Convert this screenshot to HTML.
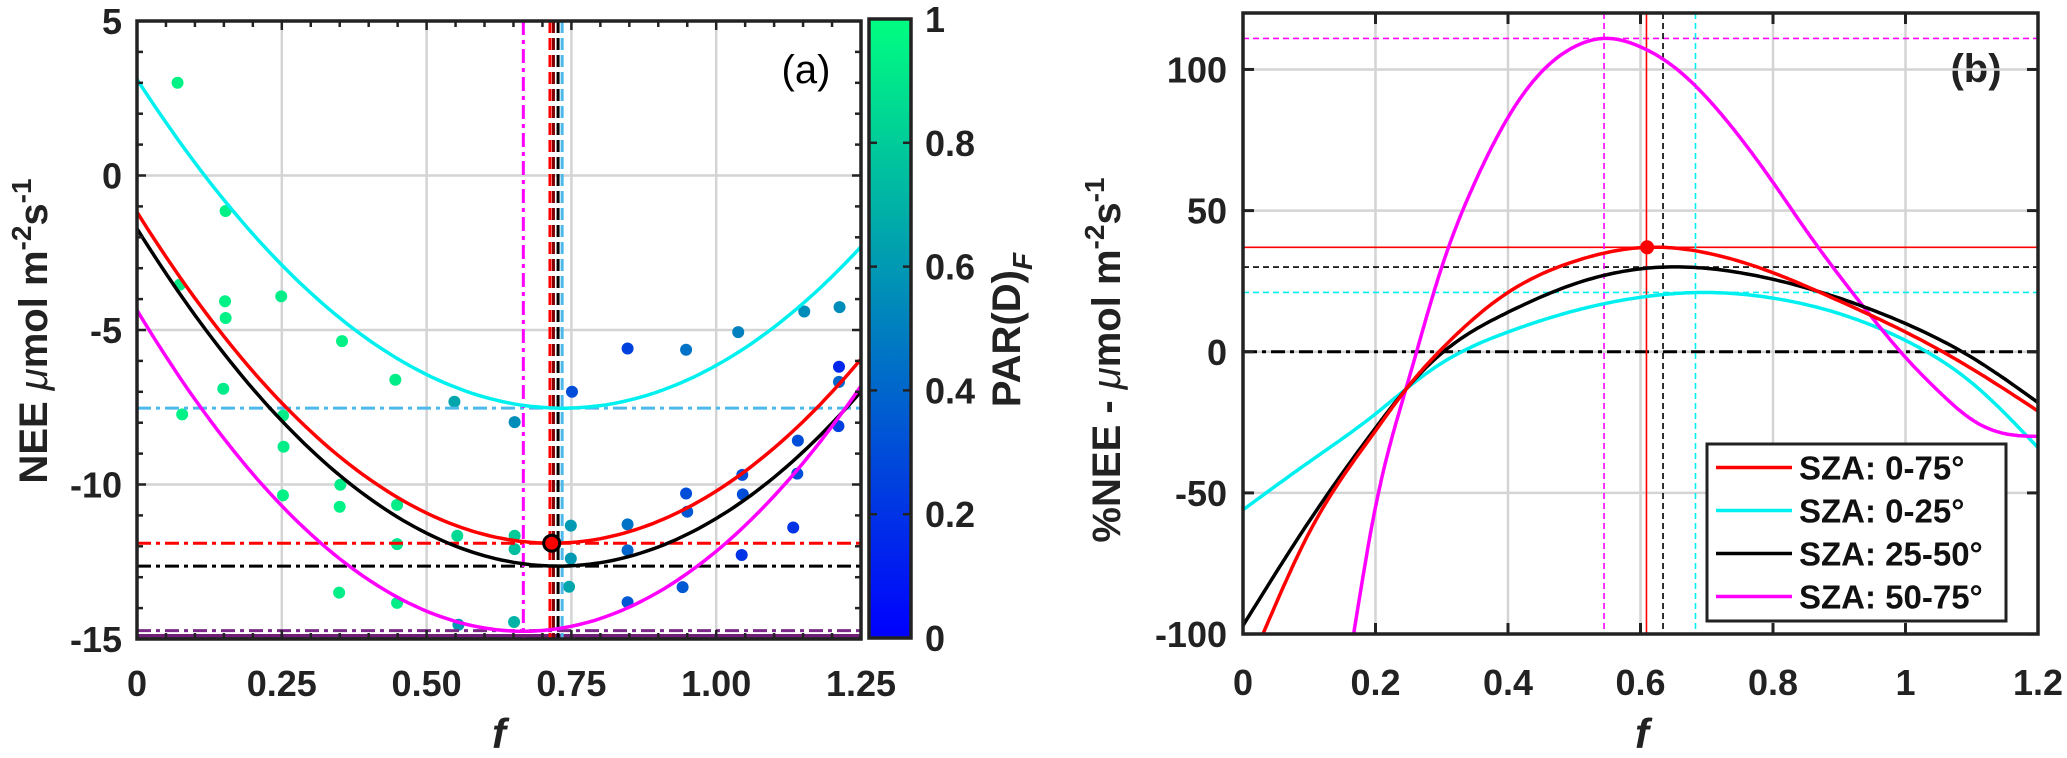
<!DOCTYPE html>
<html>
<head>
<meta charset="utf-8">
<style>
html,body{margin:0;padding:0;background:#fff;}
svg{display:block;font-family:"Liberation Sans",Arial,sans-serif;}
.tk{font-size:36px;font-weight:bold;fill:#222;}
.ttl{font-size:40px;font-weight:bold;fill:#222;}
</style>
</head>
<body>
<svg id="chart" width="2067" height="758" viewBox="0 0 2067 758" xmlns="http://www.w3.org/2000/svg">
  <defs>
    <clipPath id="clipA"><rect x="137" y="21" width="724" height="618"/></clipPath>
    <clipPath id="clipB"><rect x="1243" y="13" width="795" height="621"/></clipPath>
    <linearGradient id="cbGrad" x1="0" y1="0" x2="0" y2="1">
      <stop offset="0" stop-color="rgb(0,255,128)"/>
      <stop offset="1" stop-color="rgb(0,0,255)"/>
    </linearGradient>
  </defs>
  <g id="panelA"></g>
  <g id="panelB"></g>
</svg>
<script>
// ---------- Panel (a) data ----------
const scatterF = [0.07,0.153,0.074,0.152,0.153,0.249,0.149,0.078,0.354,0.446,0.548,0.252,0.253,0.252,0.351,0.350,0.449,0.449,0.553,0.349,0.449,0.555,
  0.652,0.652,0.652,0.651,0.751,0.749,0.749,0.746,0.847,0.847,0.847,0.847,0.948,0.948,0.950,0.942,1.038,1.045,1.046,1.044,1.152,1.141,1.140,1.133,1.213,1.212,1.212,1.211];
const scatterNEE = [3.0,-1.15,-3.53,-4.07,-4.61,-3.91,-6.90,-7.73,-5.36,-6.61,-7.32,-7.77,-8.78,-10.35,-10.01,-10.72,-10.66,-11.93,-11.66,-13.50,-13.83,-14.54,
  -7.98,-11.66,-12.09,-14.45,-7.0,-11.33,-12.4,-13.31,-5.60,-11.29,-12.13,-13.81,-5.64,-10.29,-10.88,-13.32,-5.07,-9.69,-10.32,-12.28,-4.40,-8.58,-9.65,-11.39,-4.26,-6.19,-6.68,-8.11];
const scatterPAR = [0.95,0.95,0.93,0.95,0.95,0.93,0.92,0.95,0.95,0.93,0.65,0.93,0.93,0.95,0.93,0.95,0.93,0.9,0.85,0.93,0.93,0.6,
  0.55,0.8,0.75,0.7,0.3,0.6,0.6,0.65,0.25,0.45,0.4,0.35,0.45,0.3,0.35,0.35,0.5,0.3,0.3,0.2,0.55,0.3,0.3,0.2,0.55,0.15,0.4,0.25];
const fitNames = ["cyan-fit","red-fit","black-fit","magenta-fit"];
const fitColors = ["#00f0f0","#ff0000","#000000","#ff00ff"];
const fitVertexF = [0.735,0.716,0.727,0.667];
const fitVertexNEE = [-7.53,-11.9,-12.64,-14.75];
const fitCurv = [19.7,20.9,20.66,23.35];
const vlineF = [0.667,0.713,0.719,0.727,0.734];
const vlineColors = ["#ff00ff","#ff0000","#800000","#000000","#4db8ea"];
const hlineNEE = [-7.53,-11.9,-12.64,-14.73];
const hlineColors = ["#4db8ea","#ff0000","#000000","#7b2a8a"];
const xTicksA = [0,0.25,0.5,0.75,1.0,1.25];
const xTickLabelsA = ["0","0.25","0.50","0.75","1.00","1.25"];
const yTicksA = [5,0,-5,-10,-15];
const cbTicks = [1,0.8,0.6,0.4,0.2,0];
const cbTickLabels = ["1","0.8","0.6","0.4","0.2","0"];
// ---------- Panel (b) data ----------
const bSeriesNames = ["SZA: 0-75°","SZA: 0-25°","SZA: 25-50°","SZA: 50-75°"];
const bColors = ["#ff0000","#00f0f0","#000000","#ff00ff"];
const redF = [0.03,0.1,0.2,0.247,0.3,0.4,0.5,0.61,0.7,0.8,0.9,1.0,1.1,1.2];
const redV = [-100,-64,-28,-13,1,21,32,37,35,28,18,7,-6,-21];
const cyanF = [0,0.1,0.2,0.247,0.3,0.4,0.5,0.6,0.69,0.8,0.9,1.0,1.1,1.2];
const cyanV = [-56,-39,-22,-13,-4,7,14.5,19.3,21,19,13.5,4,-11,-34];
const blackF = [0,0.1,0.2,0.247,0.3,0.4,0.5,0.635,0.75,0.9,1.0,1.1,1.2];
const blackV = [-97,-60,-27,-13,-0.5,14,24,30,28,19,10,-2,-18];
const magF = [0.167,0.2,0.247,0.3,0.35,0.4,0.45,0.5,0.545,0.6,0.65,0.7,0.75,0.8,0.85,0.9,0.95,1.0,1.05,1.1,1.15,1.2];
const magV = [-100,-55,-12.3,30,60,83,99,108,111,108,101,90,76,60,43,27,12,-2,-14,-24,-29,-30];
const refHV = [111,37,30,21];
const refHColors = ["#ff00ff","#ff0000","#000000","#00f0f0"];
const refVF = [0.545,0.609,0.634,0.683];
const refVColors = ["#ff00ff","#ff0000","#000000","#00f0f0"];
const xTicksB = [0,0.2,0.4,0.6,0.8,1,1.2];
const xTickLabelsB = ["0","0.2","0.4","0.6","0.8","1","1.2"];
const yTicksB = [100,50,0,-50,-100];

const NS = "http://www.w3.org/2000/svg";
function mk(tag, attrs, parent){
  const e = document.createElementNS(NS, tag);
  for (const k in attrs) e.setAttribute(k, attrs[k]);
  parent.appendChild(e);
  return e;
}
const xA = f => 137 + f * 579.2;
const yA = v => 21 + (5 - v) * 30.9;
const xB = f => 1243 + f * 662.5;
const yB = v => 13 + (120 - v) * 2.823;
const cbY = c => 19 + (1 - c) * 619;
function parColor(c){ return "rgb(0," + Math.round(255*c) + "," + Math.round(255*(1-0.5*c)) + ")"; }

// ===== Panel A =====
const A = document.getElementById("panelA");
xTicksA.forEach(t => { if (t > 0 && t < 1.25) {
  const g = mk("line",{x1:xA(t),x2:xA(t),y1:21,y2:639,stroke:"#d4d4d4","stroke-width":2.5},A);
    }});
yTicksA.forEach(t => { if (t < 5 && t > -15) {
  const g = mk("line",{x1:137,x2:861,y1:yA(t),y2:yA(t),stroke:"#d4d4d4","stroke-width":2.5},A);
    }});
const plotA = mk("g",{"clip-path":"url(#clipA)"},A);


for (let i = 0; i < scatterF.length; i++){
  const d = mk("ellipse",{cx:xA(scatterF[i]),cy:yA(scatterNEE[i]),rx:6,ry:6,fill:parColor(scatterPAR[i])},plotA);
  
  
}
const band = mk("line",{x1:xA(0),x2:xA(1.25),y1:yA(-15)-2,y2:yA(-15)-2,stroke:"#6f1f76","stroke-width":6},plotA);


hlineNEE.forEach((v,i) => {
  const l = mk("line",{x1:xA(0),x2:xA(1.25),y1:yA(v),y2:yA(v),stroke:hlineColors[i],"stroke-width":3,"stroke-dasharray":"14 5 4 5"},plotA);
  
  
});
vlineF.forEach((f,i) => {
  const l = mk("line",{x1:xA(f),x2:xA(f),y1:21,y2:639,stroke:vlineColors[i],"stroke-width":3,"stroke-dasharray": i===0 ? "14 5 4 5" : "12 5"},plotA);
  
  
});
for (let k = 0; k < fitNames.length; k++){
  let d = "";
  for (let j = 0; j <= 125; j++){
    const f = j/100;
    const v = fitVertexNEE[k] + fitCurv[k]*(f - fitVertexF[k])*(f - fitVertexF[k]);
    d += (j ? "L" : "M") + xA(f).toFixed(1) + "," + yA(v).toFixed(1);
  }
  const p = mk("path",{d:d,fill:"none",stroke:fitColors[k],"stroke-width":3.5},plotA);
  
  
}
const mA = mk("circle",{cx:xA(fitVertexF[1]),cy:yA(fitVertexNEE[1]),r:8,fill:"#ff0000",stroke:"#000","stroke-width":3},plotA);


const ticksA = mk("g",{stroke:"#222","stroke-width":2.5},A);


for (let j = 0; j <= 25; j++){ const x = xA(j*0.05), L = (j%5===0)?9:6;
  mk("line",{x1:x,x2:x,y1:21,y2:21+L},ticksA); mk("line",{x1:x,x2:x,y1:639,y2:639-L},ticksA); }
for (let j = 0; j <= 20; j++){ const y = yA(5-j), L = (j%5===0)?9:6;
  mk("line",{x1:137,x2:137+L,y1:y,y2:y},ticksA); mk("line",{x1:861,x2:861-L,y1:y,y2:y},ticksA); }
const boxA = mk("rect",{x:137,y:21,width:724,height:618,fill:"none",stroke:"#222","stroke-width":3.5},A);


xTicksA.forEach((t,i) => {
  const tx = mk("text",{x:xA(t),y:696,"text-anchor":"middle",class:"tk"},A);
  tx.textContent = xTickLabelsA[i];
  
  
});
yTicksA.forEach(t => {
  const tx = mk("text",{x:122,y:yA(t)+13,"text-anchor":"end",class:"tk"},A);
  tx.textContent = String(t);
  
  
});
const cb = mk("rect",{x:869,y:19,width:42,height:619,fill:"url(#cbGrad)",stroke:"#222","stroke-width":3.5},A);


cbTicks.forEach((c,i) => {
  mk("line",{x1:911,x2:903,y1:cbY(c),y2:cbY(c),stroke:"#222","stroke-width":2.5},A);
  mk("line",{x1:869,x2:877,y1:cbY(c),y2:cbY(c),stroke:"#222","stroke-width":2.5},A);
  const tx = mk("text",{x:925,y:cbY(c)+13,class:"tk"},A);
  tx.textContent = cbTickLabels[i];
  
  
});
</script>
<script>
(function(){
  const A = document.getElementById("panelA");
  const B = document.getElementById("panelB");
  function t(parent, attrs, html, name){
    const e = document.createElementNS("http://www.w3.org/2000/svg","text");
    for (const k in attrs) e.setAttribute(k, attrs[k]);
    e.innerHTML = html;
    
    
    parent.appendChild(e);
  }
  t(A,{x:806,y:83,"text-anchor":"middle","font-size":"40"},"(a)","panel-a-label");
  t(A,{x:499,y:748,"text-anchor":"middle","font-style":"italic","font-weight":"bold","font-size":"42",fill:"#222"},"f","x-axis-title-a");
  t(A,{x:0,y:0,transform:"translate(47,331) rotate(-90)","text-anchor":"middle",class:"ttl"},
    'NEE <tspan font-style="italic" font-weight="normal">μ</tspan>mol m<tspan dy="-16" font-size="28">-2</tspan><tspan dy="16">s</tspan><tspan dy="-16" font-size="28">-1</tspan>',"y-axis-title-a");
  t(A,{x:0,y:0,transform:"translate(1020,330) rotate(-90)","text-anchor":"middle",class:"ttl"},
    'PAR(D)<tspan dy="12" font-style="italic" font-size="28">F</tspan>',"colorbar-title");
  t(B,{x:1976,y:82,"text-anchor":"middle",class:"ttl","font-size":"42"},"(b)","panel-b-label");
  t(B,{x:1642,y:748,"text-anchor":"middle","font-style":"italic","font-weight":"bold","font-size":"42",fill:"#222"},"f","x-axis-title-b");
  t(B,{x:0,y:0,transform:"translate(1120,360) rotate(-90)","text-anchor":"middle",class:"ttl"},
    '%NEE - <tspan font-style="italic" font-weight="normal">μ</tspan>mol m<tspan dy="-16" font-size="28">-2</tspan><tspan dy="16">s</tspan><tspan dy="-16" font-size="28">-1</tspan>',"y-axis-title-b");
})();
</script>
<script>
(function(){
const B = document.getElementById("panelB");
function mkB(tag, attrs, parent){
  const e = document.createElementNS(NS, tag);
  for (const k in attrs) e.setAttribute(k, attrs[k]);
  parent.appendChild(e);
  return e;
}
xTicksB.forEach(t => { if (t > 0 && t < 1.2) {
  const g = mkB("line",{x1:xB(t),x2:xB(t),y1:13,y2:634,stroke:"#d4d4d4","stroke-width":2.5},B);
    }});
yTicksB.forEach(t => { if (t > -100) {
  const g = mkB("line",{x1:1243,x2:2038,y1:yB(t),y2:yB(t),stroke:"#d4d4d4","stroke-width":2.5},B);
    }});
const plot = mkB("g",{"clip-path":"url(#clipB)"},B);


const z = mkB("line",{x1:1243,x2:2038,y1:yB(0),y2:yB(0),stroke:"#000","stroke-width":3,"stroke-dasharray":"14 5 4 5"},plot);


refHV.forEach((v,i) => {
  const l = mkB("line",{x1:1243,x2:2038,y1:yB(v),y2:yB(v),stroke:refHColors[i],"stroke-width":1.6,"stroke-dasharray": i===1 ? "none" : "6 4"},plot);
  
  
});
refVF.forEach((f,i) => {
  const l = mkB("line",{x1:xB(f),x2:xB(f),y1:13,y2:634,stroke:refVColors[i],"stroke-width":1.6,"stroke-dasharray": i===1 ? "none" : "6 4"},plot);
  
  
});
function spline(F, V){
  const n = F.length, h = [], al = [], l = [1], mu = [0], zz = [0], c = new Array(n).fill(0), b = [], d = [];
  for (let i = 0; i < n-1; i++) h.push(F[i+1]-F[i]);
  for (let i = 1; i < n-1; i++) al[i] = 3/h[i]*(V[i+1]-V[i]) - 3/h[i-1]*(V[i]-V[i-1]);
  for (let i = 1; i < n-1; i++){
    l[i] = 2*(F[i+1]-F[i-1]) - h[i-1]*mu[i-1];
    mu[i] = h[i]/l[i];
    zz[i] = (al[i] - h[i-1]*zz[i-1])/l[i];
  }
  for (let j = n-2; j >= 0; j--){
    c[j] = (j>0 ? zz[j] : 0) - mu[j]*c[j+1];
    b[j] = (V[j+1]-V[j])/h[j] - h[j]*(c[j+1]+2*c[j])/3;
    d[j] = (c[j+1]-c[j])/(3*h[j]);
  }
  let path = "";
  for (let j = 0; j < n-1; j++){
    for (let s = 0; s <= 20; s++){
      const dx = h[j]*s/20;
      const v = V[j] + b[j]*dx + c[j]*dx*dx + d[j]*dx*dx*dx;
      path += (path ? "L" : "M") + xB(F[j]+dx).toFixed(1) + "," + yB(v).toFixed(1);
    }
  }
  return path;
}
const series = [[cyanF,cyanV,1,"cyan-curve"],[magF,magV,3,"magenta-curve"],[blackF,blackV,2,"black-curve"],[redF,redV,0,"red-curve"]];
series.forEach(s => {
  const p = mkB("path",{d:spline(s[0],s[1]),fill:"none",stroke:bColors[s[2]],"stroke-width":3.5,"stroke-linejoin":"round"},plot);
  
  
});
const m = mkB("circle",{cx:xB(redF[7]),cy:yB(redV[7]),r:7,fill:"#ff0000"},plot);


const tk = mkB("g",{stroke:"#222","stroke-width":3},B);


xTicksB.forEach(t => { mkB("line",{x1:xB(t),x2:xB(t),y1:13,y2:24},tk); mkB("line",{x1:xB(t),x2:xB(t),y1:634,y2:623},tk); });
yTicksB.forEach(t => { mkB("line",{x1:1243,x2:1254,y1:yB(t),y2:yB(t)},tk); mkB("line",{x1:2038,x2:2027,y1:yB(t),y2:yB(t)},tk); });
const box = mkB("rect",{x:1243,y:13,width:795,height:621,fill:"none",stroke:"#222","stroke-width":3.5},B);


xTicksB.forEach((t,i) => {
  const tx = mkB("text",{x:xB(t),y:695,"text-anchor":"middle",class:"tk"},B);
  tx.textContent = xTickLabelsB[i];
  
  
});
yTicksB.forEach(t => {
  const tx = mkB("text",{x:1227,y:yB(t)+13,"text-anchor":"end",class:"tk"},B);
  tx.textContent = String(t);
  
  
});
const lg = mkB("g",{},B);


mkB("rect",{x:1707,y:444,width:299,height:177,fill:"#fff",stroke:"#222","stroke-width":3},lg);
bSeriesNames.forEach((n,i) => {
  const y = 467.5 + i*43;
  const ln = mkB("line",{x1:1716,x2:1792,y1:y,y2:y,stroke:bColors[i],"stroke-width":3.5},lg);
  
  
  const tx = mkB("text",{x:1799,y:y+12,"font-size":"33","font-weight":"bold",fill:"#111"},lg);
  tx.textContent = n;
  
  
});
})();
</script>
</body>
</html>
